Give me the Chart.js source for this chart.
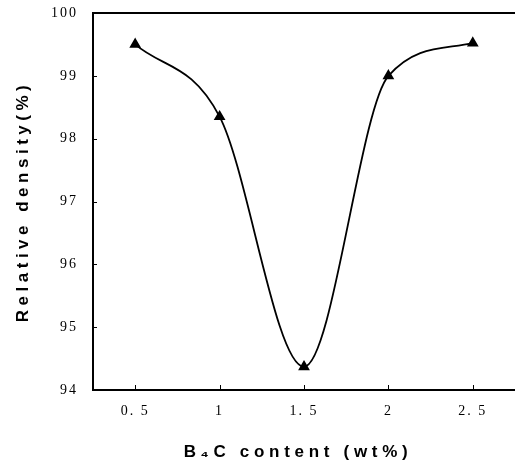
<!DOCTYPE html>
<html>
<head>
<meta charset="utf-8">
<script src="https://cdn.jsdelivr.net/npm/chart.js@4"></script>
<style>
  html, body { margin: 0; padding: 0; background: #fff; }
  #wrap { width: 515px; height: 475px; }
</style>
</head>
<body>
<div id="wrap"><canvas id="densityChart" width="515" height="475"></canvas></div>
<script>
// B4C additions vs. relative density
const b4cContent = [0.5, 1, 1.5, 2, 2.5];
const relDensity = [99.5, 98.35, 94.37, 99.0, 99.52];
const xTickValues = [0.5, 1, 1.5, 2, 2.5];
const xTickLabels = ['0. 5', '1', '1. 5', '2', '2. 5'];
const yTickValues = [94, 95, 96, 97, 98, 99, 100];

const serif = '"Liberation Serif", "DejaVu Serif", serif';
const sans = '"Liberation Sans", Arial, sans-serif';

// wider letter spacing on the axis titles (plus an optional nudge)
function spacedTitle(scale, spacing, dx, dy) {
    if (scale._spaced) return;
    const orig = scale.drawTitle.bind(scale);
    scale.drawTitle = function (...args) {
        const ctx = this.ctx;
        ctx.save();
        ctx.letterSpacing = spacing;
        ctx.translate(dx, dy);
        orig(...args);
        ctx.restore();
    };
    scale._spaced = true;
}

// no extra room for half-labels at the axis ends
function noEndPadding(scale) {
    scale.paddingTop = 0;
    scale.paddingBottom = 0;
    scale.paddingLeft = 0;
    scale.paddingRight = 0;
}

// small inward tick marks + top frame line
const frameTicks = {
    id: 'frameTicks',
    beforeDraw(chart) {
        chart.ctx.letterSpacing = '2px';
    },
    afterDraw(chart) {
        const { ctx, chartArea: a, scales } = chart;
        ctx.save();
        ctx.strokeStyle = '#000';
        ctx.lineWidth = 2;
        ctx.beginPath();
        ctx.moveTo(a.left - 1, a.top);
        ctx.lineTo(a.right, a.top);
        ctx.stroke();

        ctx.lineWidth = 1;
        ctx.beginPath();
        scales.x.ticks.forEach(t => {
            const px = Math.round(scales.x.getPixelForValue(t.value)) + 0.5;
            ctx.moveTo(px, a.bottom);
            ctx.lineTo(px, a.bottom - 5);
        });
        scales.y.ticks.forEach(t => {
            const py = Math.round(scales.y.getPixelForValue(t.value)) + 0.5;
            ctx.moveTo(a.left, py);
            ctx.lineTo(a.left + 4, py);
        });
        ctx.stroke();
        ctx.restore();
    }
};

new Chart(document.getElementById('densityChart'), {
    type: 'line',
    data: {
        datasets: [{
            data: b4cContent.map((x, i) => ({ x: x, y: relDensity[i] })),
            borderColor: '#000',
            borderWidth: 1.8,
            cubicInterpolationMode: 'monotone',
            pointStyle: 'triangle',
            pointRadius: 5,
            pointBackgroundColor: '#000',
            pointBorderColor: '#000',
            fill: false
        }]
    },
    plugins: [frameTicks],
    options: {
        responsive: false,
        animation: false,
        layout: { autoPadding: false, padding: { left: 0, right: 0, top: 13, bottom: 0 } },
        plugins: {
            legend: { display: false },
            tooltip: { enabled: false }
        },
        scales: {
            x: {
                type: 'linear',
                min: 0.25,
                max: 2.75,
                afterBuildTicks: s => { s.ticks = xTickValues.map(v => ({ value: v })); },
                afterFit: s => { s.height = 85; noEndPadding(s); spacedTitle(s, '4.7px', -6, 0); },
                grid: { display: false, drawTicks: false },
                border: { display: true, color: '#000', width: 2 },
                ticks: {
                    padding: 13,
                    color: '#000',
                    font: { family: serif, size: 14 },
                    callback: v => xTickLabels[xTickValues.indexOf(v)]
                },
                title: {
                    display: true,
                    text: 'B\u2084C content (wt%)',
                    color: '#000',
                    font: { family: sans, size: 17, weight: 'bold' },
                    padding: { top: 3, bottom: 12 }
                }
            },
            y: {
                min: 94,
                max: 100,
                afterBuildTicks: s => { s.ticks = yTickValues.map(v => ({ value: v })); },
                afterFit: s => { s.width = 93; noEndPadding(s); spacedTitle(s, '4.5px', 0, 0); },
                grid: { display: false, drawTicks: false },
                border: { display: true, color: '#000', width: 2 },
                ticks: {
                    padding: 15,
                    color: '#000',
                    font: { family: serif, size: 14 }
                },
                title: {
                    display: true,
                    text: 'Relative density(%)',
                    color: '#000',
                    font: { family: sans, size: 17, weight: 'bold' },
                    padding: { top: 13, bottom: 0 }
                }
            }
        }
    }
});
</script>
</body>
</html>
